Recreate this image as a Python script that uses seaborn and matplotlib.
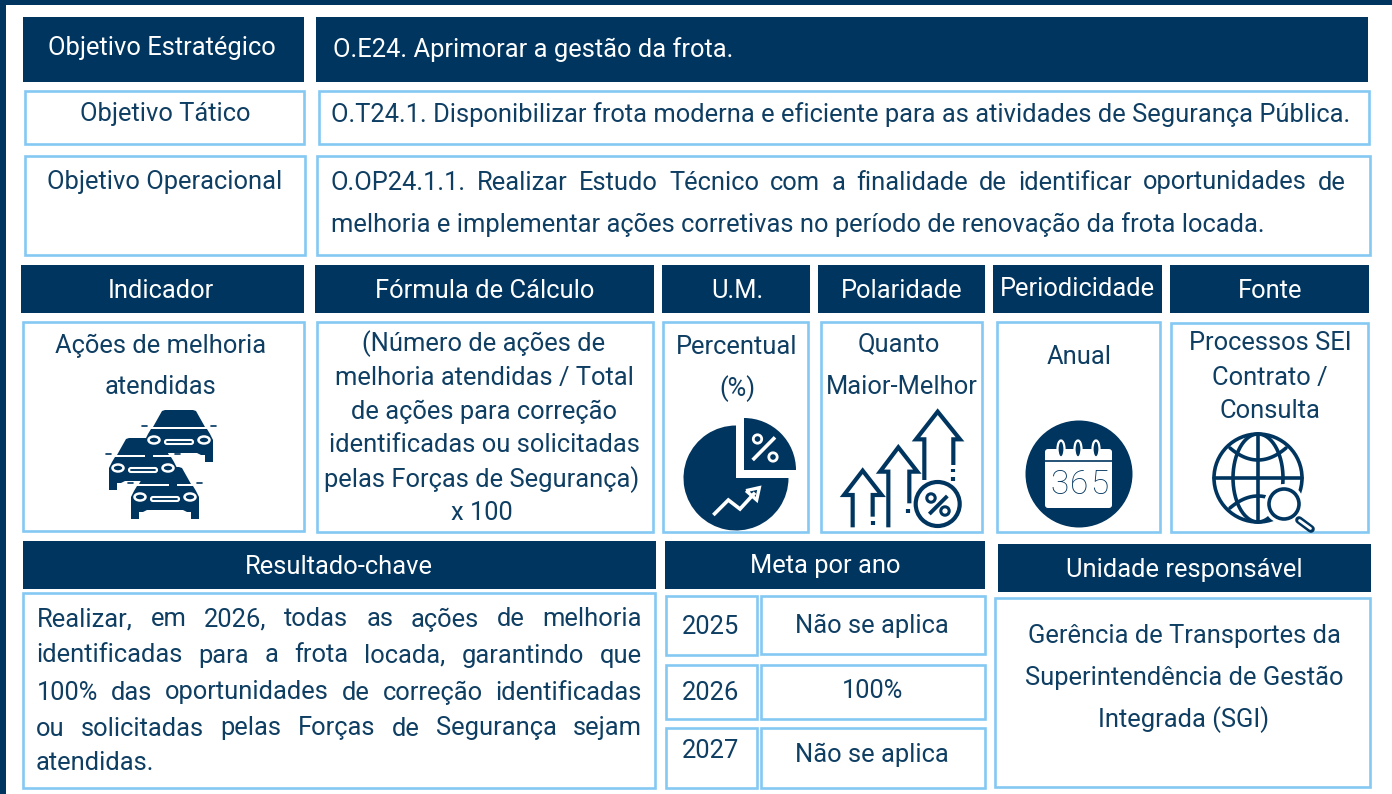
import matplotlib
matplotlib.use('Agg')
import matplotlib.pyplot as plt
import seaborn as sns
import numpy as np
from matplotlib.patches import Rectangle, Circle, Wedge, Polygon, FancyBboxPatch, Ellipse

W, H = 1392, 794
DARK = '#00355f'
LIGHT = '#85c9f3'
INK = '#0f3e63'
FONT = 'Roboto'
FS = 18.4

# dark header cells: x0, y0, x1, y1
dark_cells = [
    (23, 17, 304, 82), (316, 17, 1368, 82),
    (21, 265, 304, 313), (315, 265, 654, 313), (662, 265, 810, 313),
    (818, 265, 985, 313), (993, 265, 1162, 313), (1170, 265, 1369, 313),
    (23, 541, 656, 589), (665, 541, 985, 589), (998, 544, 1371, 592),
]
# outlined cells
line_cells = [
    (25, 91, 304, 144), (319, 91, 1369, 144),
    (25, 156, 305, 255), (317, 156, 1370, 255),
    (23, 322, 304, 531), (317, 322, 653, 532), (663, 322, 808, 532),
    (821, 322, 982, 532), (997, 322, 1160, 532), (1171, 323, 1368, 532),
    (23, 593, 655, 788), (666, 596, 757, 655), (761, 596, 985, 654),
    (666, 665, 757, 719), (761, 665, 985, 719), (666, 728, 757, 788),
    (761, 728, 985, 788), (995, 598, 1370, 787),
]

# text on dark cells: label, x centre, y centre
dark_labels = [
    ('Objetivo Estratégico', 162, 46), ('Indicador', 161, 288),
    ('Fórmula de Cálculo', 485, 289), ('U.M.', 737, 288),
    ('Polaridade', 902, 289), ('Periodicidade', 1077, 287), ('Fonte', 1270, 289),
    ('Resultado-chave', 339, 564), ('Meta por ano', 825, 564),
    ('Unidade responsável', 1184, 567),
]
ink_labels = [
    ('Objetivo Tático', 165, 111), ('Objetivo Operacional', 165, 179),
    ('Ações de melhoria', 161, 343), ('atendidas', 161, 385),
    ('(Número de ações de', 484, 341), ('melhoria atendidas / Total', 484, 375),
    ('de ações para correção', 484, 409), ('identificadas ou solicitadas', 484, 443),
    ('pelas Forças de Segurança)', 482, 477), ('x 100', 482, 511),
    ('Percentual', 737, 345), ('(%)', 737, 386),
    ('Quanto', 899, 342), ('Maior-Melhor', 902, 384),
    ('Anual', 1079, 355),
    ('Processos SEI', 1270, 341), ('Contrato /', 1270, 375), ('Consulta', 1270, 409),
    ('2025', 711, 625), ('Não se aplica', 872, 623),
    ('2026', 711, 691), ('100%', 873, 689),
    ('2027', 711, 749), ('Não se aplica', 872, 752),
    ('Gerência de Transportes da', 1184, 633),
    ('Superintendência de Gestão', 1184, 675), ('Integrada (SGI)', 1184, 717),
]
# left aligned lines: label, x left, y centre, colour is white for the first
left_labels = [
    ('O.E24. Aprimorar a gestão da frota.', 333, 47, 'white'),
    ('O.T24.1. Disponibilizar frota moderna e eficiente para as atividades de Segurança Pública.', 331, 112, INK),
    ('melhoria e implementar ações corretivas no período de renovação da frota locada.', 331, 222, INK),
    ('atendidas.', 36, 761, INK),
]
# justified lines: label, x left, x right, y centre
just_labels = [
    ('O.OP24.1.1. Realizar Estudo Técnico com a finalidade de identificar oportunidades de', 331, 1346, 180),
    ('Realizar, em 2026, todas as ações de melhoria', 37, 642, 617),
    ('identificadas para a frota locada, garantindo que', 36, 642, 653),
    ('100% das oportunidades de correção identificadas', 37, 642, 690),
    ('ou solicitadas pelas Forças de Segurança sejam', 36, 642, 726),
]

sns.set_theme(style='white')
plt.rcParams['font.family'] = [FONT, 'DejaVu Sans']

fig = plt.figure(figsize=(W / 100, H / 100), dpi=100)
ax = fig.add_axes([0, 0, 1, 1])
ax.set_xlim(0, W)
ax.set_ylim(H, 0)
ax.axis('off')


def label(s, x, y, color=INK, ha='center', size=FS):
    return ax.text(x, y, s, color=color, ha=ha, va='center_baseline', fontsize=size)


def justified(s, x0, x1, y):
    r = fig.canvas.get_renderer()
    words = s.split()
    items = [label(w, x0, y, ha='left') for w in words]
    widths = [t.get_window_extent(r).width for t in items]
    gap = (x1 - x0 - sum(widths)) / (len(words) - 1)
    x = x0
    for t, w in zip(items, widths):
        t.set_x(x)
        x += w + gap


def poly_line(pts, ox, oy, lw=3, color=DARK, zorder=4):
    pts = np.array(pts, dtype=float) / 3
    ax.plot(pts[:, 0] + ox, pts[:, 1] + oy, color=color, lw=lw, zorder=zorder,
            solid_capstyle='butt', solid_joinstyle='miter')


def car(x, y):
    # x, y is the top left corner of a 68x52 car
    ax.add_patch(Polygon([(x - 2, y + 22), (x + 14, y - 2), (x + 54, y - 2), (x + 70, y + 22), (x + 70, y + 55), (x - 2, y + 55)],
                         fc='white', ec='none', zorder=3))
    ax.add_patch(Polygon([(x + 8, y + 17), (x + 17, y + 1), (x + 20, y), (x + 48, y), (x + 51, y + 1), (x + 60, y + 17)],
                         fc=DARK, ec='none', zorder=4))
    ax.add_patch(Polygon([(x, y + 30), (x + 3, y + 24), (x + 6, y + 19), (x + 62, y + 19), (x + 65, y + 24), (x + 68, y + 30),
                          (x + 68, y + 45), (x + 56, y + 45), (x + 52, y + 43), (x + 16, y + 43), (x + 12, y + 45), (x, y + 45)],
                         fc=DARK, ec='none', zorder=4))
    ax.add_patch(Rectangle((x, y + 45), 8, 7, fc=DARK, ec='none', zorder=4))
    ax.add_patch(Rectangle((x + 60, y + 45), 8, 7, fc=DARK, ec='none', zorder=4))
    ax.add_patch(FancyBboxPatch((x + 20, y + 30), 28, 4, boxstyle='round,pad=0,rounding_size=2',
                                fc=DARK, ec='white', lw=1.5, zorder=5))
    ax.add_patch(Ellipse((x + 9, y + 30), 11, 7, fc=DARK, ec='white', lw=1.8, zorder=5))
    ax.add_patch(Ellipse((x + 59, y + 30), 11, 7, fc=DARK, ec='white', lw=1.8, zorder=5))
    ax.plot([x - 3, x + 2], [y + 16, y + 16], color=DARK, lw=1.2, zorder=4)
    ax.plot([x + 66, x + 71], [y + 16, y + 16], color=DARK, lw=1.2, zorder=4)


# page frame
ax.add_patch(Rectangle((0, 0), 6, H, fc=DARK, ec='none'))
ax.add_patch(Rectangle((0, 0), W, 5, fc=DARK, ec='none'))

for x0, y0, x1, y1 in dark_cells:
    ax.add_patch(Rectangle((x0, y0), x1 - x0, y1 - y0, fc=DARK, ec='none'))
for x0, y0, x1, y1 in line_cells:
    ax.add_patch(Rectangle((x0, y0), x1 - x0, y1 - y0, fc='white', ec=LIGHT, lw=1.9))

for s, x, y in dark_labels:
    label(s, x, y, color='white')
for s, x, y in ink_labels:
    label(s, x, y)
for s, x, y, c in left_labels:
    label(s, x, y, color=c, ha='left')
fig.canvas.draw()
for s, x0, x1, y in just_labels:
    justified(s, x0, x1, y)

# cars, back to front
car(145, 410)
car(109, 438)
car(131, 467)

# pie icon
ax.add_patch(Wedge((736, 478), 52.5, 0, 270, fc=DARK, ec='none', zorder=3))
ax.add_patch(Wedge((744, 470), 52, 270, 360, fc=DARK, ec='none', zorder=3))
poly_line([(345, 352), (278, 420)], 660, 320, lw=2.6, color='white')
ax.add_patch(Circle((757.5, 439), 4.2, fc='none', ec='white', lw=2, zorder=4))
ax.add_patch(Circle((773, 457), 4.2, fc='none', ec='white', lw=2, zorder=4))
poly_line([(160, 585), (205, 540), (240, 567), (285, 518)], 660, 320, lw=2.6, color='white')
poly_line([(258, 512), (298, 503), (290, 540), (258, 512)], 660, 320, lw=2.4, color='white')

# rising arrows icon
poly_line([(793, 480), (793, 358), (768, 358), (833, 275), (900, 358), (880, 358), (880, 435)], 660, 320)
poly_line([(880, 447), (880, 457)], 660, 320)
poly_line([(880, 470), (880, 482)], 660, 320)
poly_line([(685, 622), (685, 455), (660, 455), (715, 382), (772, 455), (748, 455), (748, 550)], 660, 320)
poly_line([(744, 567), (744, 578)], 660, 320)
poly_line([(578, 622), (578, 525), (552, 525), (608, 452), (665, 525), (638, 525), (638, 590)], 660, 320)
poly_line([(638, 602), (638, 614)], 660, 320)
ax.add_patch(Circle((937.7, 504), 22, fc='white', ec=DARK, lw=3, zorder=4))
poly_line([(862, 528), (808, 582)], 660, 320, lw=2.8, zorder=5)
ax.add_patch(Circle((931, 498), 4.2, fc='none', ec=DARK, lw=2.2, zorder=5))
ax.add_patch(Circle((945, 511), 4.2, fc='none', ec=DARK, lw=2.2, zorder=5))

# calendar icon
ax.add_patch(Circle((1079, 474), 53.5, fc=DARK, ec='none', zorder=3))
ax.add_patch(FancyBboxPatch((1045, 449), 67, 59, boxstyle='round,pad=0,rounding_size=3', fc='white', ec='none', zorder=4))
ax.plot([1045, 1112], [461, 461], color=DARK, lw=1.2, zorder=5)
for rx in [1061, 1078, 1096]:
    ax.add_patch(Ellipse((rx, 449), 7, 17, fc=DARK, ec='white', lw=1.6, zorder=5))
for d, dx in zip('365', [1060, 1079, 1099]):
    ax.text(dx, 485, d, color=DARK, ha='center', va='center', fontsize=24, fontweight='light',
            family='Roboto', zorder=6)

# globe icon
gx, gy, gr = 1258, 478, 44
t = np.linspace(0, 2 * np.pi, 200)
ax.add_patch(Circle((gx, gy), gr, fc='white', ec=DARK, lw=2.6, zorder=3))
ax.plot(gx + 25 * np.cos(t), gy + gr * np.sin(t), color=DARK, lw=2.6, zorder=4)
ax.plot([gx, gx], [gy - gr, gy + gr], color=DARK, lw=2.6, zorder=4)
ax.plot([gx - gr, gx + gr], [gy, gy], color=DARK, lw=2.6, zorder=4)
a = np.linspace(-1, 1, 60)
ax.plot(gx + 28 * a, gy - 30 + 12 * (1 - a ** 2), color=DARK, lw=2.6, zorder=4)
ax.plot(gx + 28 * a, gy + 30 - 12 * (1 - a ** 2), color=DARK, lw=2.6, zorder=4)
ax.add_patch(Circle((1284, 504), 20, fc='white', ec='none', zorder=5))
ax.add_patch(Circle((1284, 504), 15, fc='white', ec=DARK, lw=2.6, zorder=6))
ax.plot([1299, 1311], [520, 529], color=DARK, lw=5.5, zorder=6, solid_capstyle='round')
ax.plot([1299.5, 1310.5], [520.5, 528.5], color='white', lw=2, zorder=7, solid_capstyle='round')

sns.despine(ax=ax, left=True, bottom=True)
fig.savefig('out.png', dpi=100, facecolor='white')
